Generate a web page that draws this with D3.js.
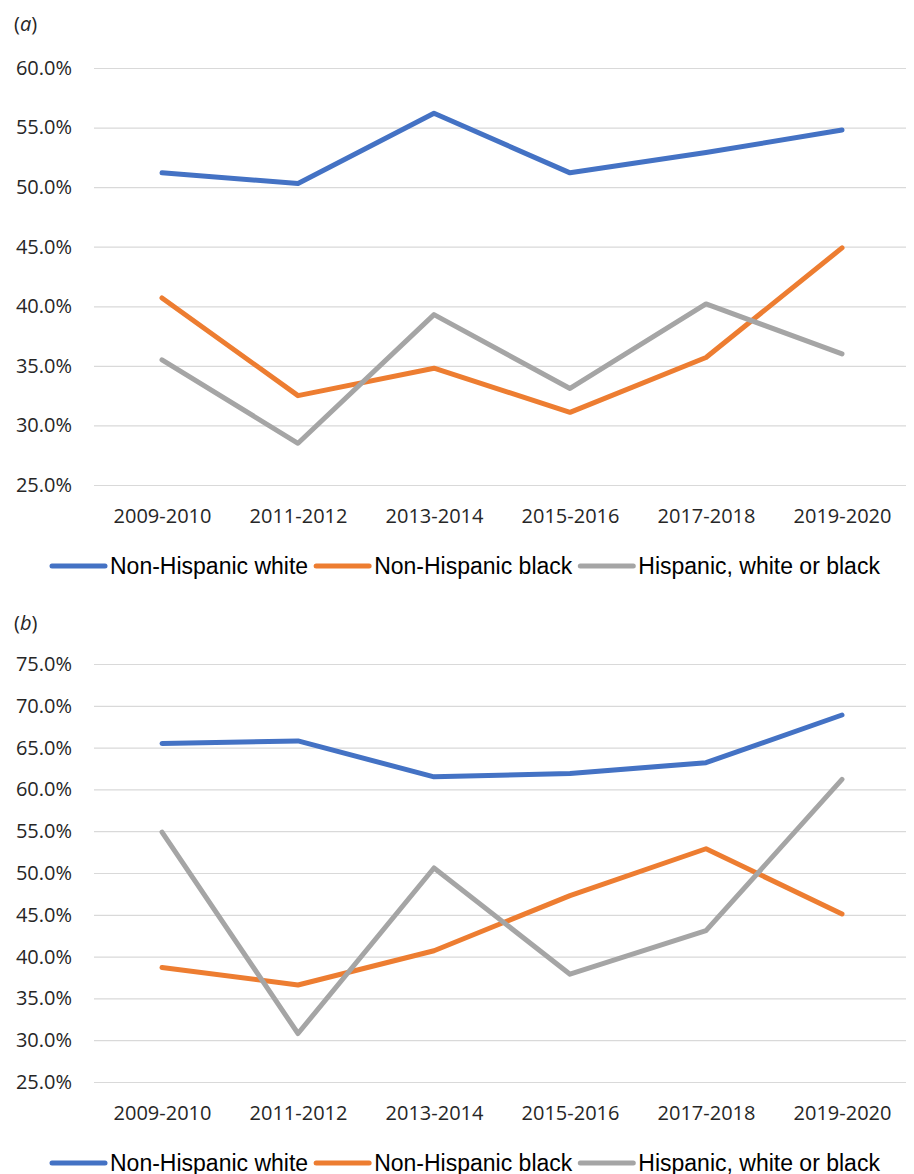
<!DOCTYPE html>
<html>
<head>
<meta charset="utf-8">
<script src="https://cdn.jsdelivr.net/npm/d3@7"></script>
<style>
  body { margin: 0; background: #fff; }
  .axis text { font-family: "Open Sans", sans-serif; font-size: 20px; fill: #262626; }
  .legend text { font-family: "Liberation Sans", Arial, sans-serif; font-size: 23px; fill: #000; }
  .plabel { font-family: "Open Sans", sans-serif; font-size: 20px; fill: #262626; }
</style>
</head>
<body>
<svg id="chart" width="914" height="1174"></svg>
<script>
var periods = ['2009-2010', '2011-2012', '2013-2014', '2015-2016', '2017-2018', '2019-2020']
var seriesNames = ['Non-Hispanic white', 'Non-Hispanic black', 'Hispanic, white or black']
var colors = ['#4472C4', '#ED7D31', '#A5A5A5']

// panel (a)
var whiteA = [51.2, 50.3, 56.2, 51.2, 52.9, 54.8]
var blackA = [40.7, 32.5, 34.8, 31.1, 35.7, 44.9]
var hispA  = [35.5, 28.5, 39.3, 33.1, 40.2, 36.0]
var ticksA = [25, 30, 35, 40, 45, 50, 55, 60]

// panel (b)
var whiteB = [65.5, 65.8, 61.5, 61.9, 63.2, 68.9]
var blackB = [38.7, 36.6, 40.7, 47.3, 52.9, 45.1]
var hispB  = [54.9, 30.8, 50.6, 37.9, 43.1, 61.2]
var ticksB = [25, 30, 35, 40, 45, 50, 55, 60, 65, 70, 75]

var svg = d3.select('#chart')

var x = d3.scalePoint()
    .domain(periods)
    .range([94, 910])
    .padding(0.5)

function panel(label, labelY, series, ticks, top, bottom, legendY) {
    var y = d3.scaleLinear()
        .domain([d3.min(ticks), d3.max(ticks)])
        .range([bottom, top])

    svg.append('text')
        .attr('class', 'plabel')
        .attr('x', 14)
        .attr('y', labelY)
        .html('(<tspan font-style="italic">' + label + '</tspan>)')

    // gridlines + y labels
    var yAxis = svg.append('g')
        .attr('class', 'axis')
        .attr('transform', 'translate(94,0)')
        .call(d3.axisLeft(y).tickValues(ticks)
            .tickSize(-812).tickPadding(22)
            .tickFormat(d => d.toFixed(1) + '%'))
    yAxis.select('.domain').remove()
    yAxis.selectAll('line').attr('stroke', '#d9d9d9').attr('stroke-width', 1.2)

    var xAxis = svg.append('g')
        .attr('class', 'axis')
        .attr('transform', `translate(0,${bottom})`)
        .call(d3.axisBottom(x).tickSize(0).tickPadding(24))
    xAxis.select('.domain').remove()

    var line = d3.line()
        .x((d, i) => x(periods[i]))
        .y(d => y(d))

    series.forEach(function (s, i) {
        svg.append('path')
            .datum(s)
            .attr('fill', 'none')
            .attr('stroke', colors[i])
            .attr('stroke-width', 5)
            .attr('stroke-linejoin', 'round')
            .attr('stroke-linecap', 'round')
            .attr('d', line)
    })

    // legend
    var lg = svg.append('g').attr('class', 'legend')
    var cx = 52
    seriesNames.forEach(function (name, i) {
        lg.append('line')
            .attr('x1', cx).attr('x2', cx + 53)
            .attr('y1', legendY).attr('y2', legendY)
            .attr('stroke', colors[i])
            .attr('stroke-width', 5)
            .attr('stroke-linecap', 'round')
        var t = lg.append('text')
            .attr('x', cx + 58)
            .attr('y', legendY)
            .attr('dy', '0.35em')
            .text(name)
        cx = cx + 58 + t.node().getComputedTextLength() + 8
    })
}

panel('a', 31, [whiteA, blackA, hispA], ticksA, 68, 485, 566)
panel('b', 630, [whiteB, blackB, hispB], ticksB, 664, 1082, 1163)
</script>
</body>
</html>
